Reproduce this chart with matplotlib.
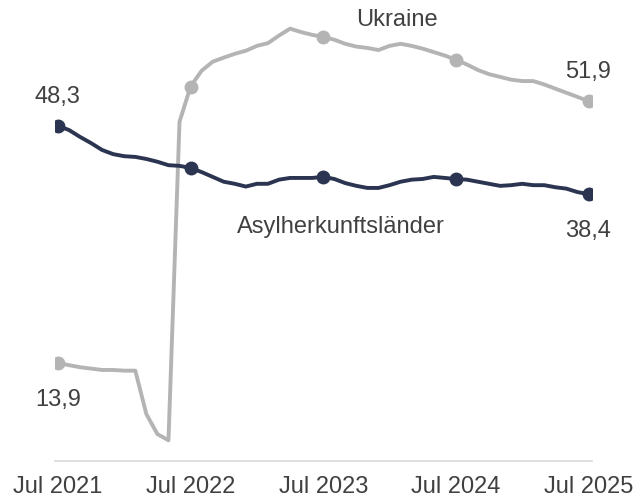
import matplotlib
matplotlib.use("Agg")
import matplotlib.pyplot as plt
import numpy as np

plt.rcParams["font.family"] = ["Liberation Sans", "DejaVu Sans"]

# monthly values, Jul 2021 .. Jul 2025
months = np.arange(49)
tick_pos = [0, 12, 24, 36, 48]
tick_labels = ["Jul 2021", "Jul 2022", "Jul 2023", "Jul 2024", "Jul 2025"]

ukraine = [13.9, 13.6, 13.3, 13.1, 12.9, 12.9, 12.8, 12.8, 6.5, 3.6, 2.7, 48.9,
           54.0, 56.3, 57.6, 58.2, 58.75, 59.2, 59.9, 60.3, 61.4, 62.4, 61.9, 61.5,
           61.2, 60.8, 60.2, 59.8, 59.6, 59.3, 59.9, 60.2, 59.9, 59.5, 59.0, 58.5,
           57.9, 57.2, 56.4, 55.8, 55.4, 55.0, 54.8, 54.8, 54.3, 53.7, 53.1, 52.5,
           51.9]
asyl = [48.3, 47.7, 46.7, 45.8, 44.8, 44.2, 43.9, 43.8, 43.5, 43.1, 42.6, 42.5,
        42.2, 41.6, 40.9, 40.2, 39.9, 39.5, 39.9, 39.9, 40.5, 40.75, 40.75, 40.75,
        40.9, 40.6, 40.0, 39.6, 39.3, 39.3, 39.7, 40.2, 40.5, 40.6, 40.9, 40.75,
        40.6, 40.5, 40.2, 39.9, 39.6, 39.7, 39.9, 39.7, 39.7, 39.4, 39.2, 38.7,
        38.4]

GRAY = "#b4b4b4"
DARK = "#2b3450"
TXT = "#404040"
FS = 17

fig = plt.figure(figsize=(6.35, 5.02), dpi=100)
ax = fig.add_axes([0.086, 0.0797, 0.846, 0.9203])

ax.plot(months, ukraine, color=GRAY, lw=2.8, solid_joinstyle="round")
ax.plot(tick_pos, [ukraine[i] for i in tick_pos], "o", color=GRAY, ms=9)
ax.plot(months, asyl, color=DARK, lw=2.8, solid_joinstyle="round")
ax.plot(tick_pos, [asyl[i] for i in tick_pos], "o", color=DARK, ms=9)

def fmt(v):
    return f"{v:.1f}".replace(".", ",")

ax.text(0, asyl[0] + 4.4, fmt(asyl[0]), ha="center", va="center", fontsize=FS, color=TXT)
ax.text(0, ukraine[0] - 5.2, fmt(ukraine[0]), ha="center", va="center", fontsize=FS, color=TXT)
ax.text(48, ukraine[-1] + 4.4, fmt(ukraine[-1]), ha="center", va="center", fontsize=FS, color=TXT)
ax.text(48, asyl[-1] - 5.2, fmt(asyl[-1]), ha="center", va="center", fontsize=FS, color=TXT)
ax.text(30.65, 63.8, "Ukraine", ha="center", va="center", fontsize=FS, color=TXT)
ax.text(25.6, 33.8, "Asylherkunftsländer", ha="center", va="center", fontsize=FS, color=TXT)

ax.set_xlim(-0.3, 48.3)
ax.set_ylim(-0.3, 66.7)
ax.set_xticks(tick_pos)
ax.set_xticklabels(tick_labels, fontsize=FS, color=TXT)
ax.tick_params(axis="x", length=0, pad=10)
ax.set_yticks([])
for s in ["top", "right", "left"]:
    ax.spines[s].set_visible(False)
ax.spines["bottom"].set_color("#d9d9d9")
ax.spines["bottom"].set_linewidth(1.2)

fig.savefig("out.png", dpi=100)
